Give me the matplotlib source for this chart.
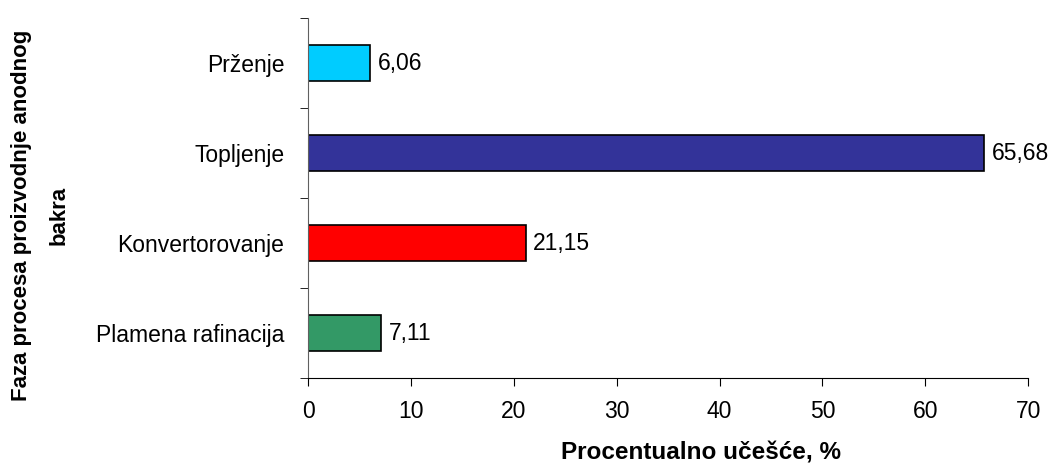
import matplotlib
matplotlib.use("Agg")
import matplotlib.pyplot as plt

categories = ["Prženje", "Topljenje", "Konvertorovanje", "Plamena rafinacija"]
values = [6.06, 65.68, 21.15, 7.11]
labels = ["6,06", "65,68", "21,15", "7,11"]
colors = ["#00CCFF", "#333399", "#FF0000", "#339966"]
xticks = [0, 10, 20, 30, 40, 50, 60, 70]

plt.rcParams['font.family'] = ['Liberation Sans', 'DejaVu Sans']

fig = plt.figure(figsize=(10.55, 4.68), dpi=100)
ax = fig.add_axes([0.292, 0.1923, 0.6825, 0.7692])

ypos = list(range(len(categories)))[::-1]
ax.barh(ypos, values, height=0.41, color=colors, edgecolor="black", linewidth=1.2)
for y, v, t in zip(ypos, values, labels):
    ax.text(v + 0.75, y, t, va="center", ha="left", fontsize=16.5)

ax.set_xlim(0, 70)
ax.set_ylim(-0.5, 3.5)
ax.set_xticks(xticks)
ax.set_xticklabels([str(x) for x in xticks], fontsize=16.5)
ax.set_yticks(ypos)
ax.set_yticklabels(categories, fontsize=16.5)
ax.tick_params(axis='y', which='major', length=0, pad=17)
ax.set_yticks([-0.5, 0.5, 1.5, 2.5, 3.5], minor=True)
ax.tick_params(axis='y', which='minor', length=6, direction='out')
ax.tick_params(axis='x', length=6, direction='out', pad=10)
for s in ["top", "right"]:
    ax.spines[s].set_visible(False)
ax.spines["left"].set_color("#606060")

fig.text(0.664, 0.032, "Procentualno učešće, %", ha="center", va="center",
         fontsize=17.5, fontweight="bold")
fig.text(0.038, 0.54, "Faza procesa proizvodnje anodnog\nbakra", ha="center", va="center",
         rotation=90, fontsize=16, fontweight="bold", linespacing=2.0)

fig.savefig("out.png", dpi=100)
